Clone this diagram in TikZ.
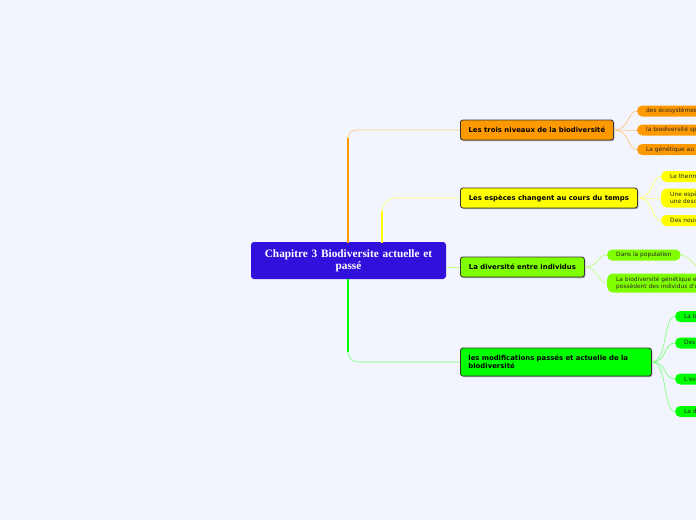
\documentclass[tikz,border=0pt]{standalone}
\usepackage{fontspec}
\newfontfamily\vf{DejaVu Sans}
\newfontfamily\gf{Liberation Serif}
\usetikzlibrary{shadows}
\definecolor{bg}{HTML}{F2F5FD}
\definecolor{cen}{HTML}{3210DC}
\definecolor{cor}{HTML}{FF9900}
\definecolor{cye}{HTML}{FFFF00}
\definecolor{clg}{HTML}{80FF00}
\definecolor{cgr}{HTML}{00FF00}
\definecolor{lor}{HTML}{FFC880}
\definecolor{lye}{HTML}{FFFF70}
\definecolor{llg}{HTML}{C0FF80}
\definecolor{lgr}{HTML}{80FF80}
\tikzset{
  mainbox/.style={draw=black!80, line width=0.8pt, rounded corners=2.5pt, anchor=west,
    inner xsep=8pt, inner ysep=0pt, minimum height=20pt, align=left,
    font=\vf\bfseries\fontsize{6.9}{8.5}\selectfont, text=black,
    drop shadow={shadow xshift=1pt, shadow yshift=-1pt, opacity=0.35, fill=black}},
  leaf/.style={rounded corners=5pt, anchor=west, inner xsep=9pt, inner ysep=0pt,
    minimum height=11pt, align=left, font=\vf\fontsize{5.9}{6.9}\selectfont, text=black!85},
  conn/.style={line width=0.7pt},
  trunk/.style={line width=1.1pt}
}
\begin{document}
\begin{tikzpicture}[x=1pt,y=-1pt]
\useasboundingbox (0,0) rectangle (696,520);
\fill[bg] (0,0) rectangle (696,520);
\begin{scope}
\clip (0,0) rectangle (696,520);
% central
\node[fill=cen, rounded corners=3pt, minimum width=195pt, minimum height=37pt, inner sep=0pt,
  text width=190pt, align=center, text=white, font=\gf\bfseries\fontsize{11.3}{12}\selectfont]
  (c) at (348.5,260.5) {Chapitre 3 Biodiversite actuelle et\\passé};
% main nodes
\node[mainbox, fill=cor, minimum width=153pt] (n1) at (460,130) {Les trois niveaux de la biodiversité};
\node[mainbox, fill=cye, minimum width=177pt] (n2) at (460,198) {Les espèces changent au cours du temps};
\node[mainbox, fill=clg, minimum width=124pt] (n3) at (460,267) {La diversité entre individus};
\node[mainbox, fill=cgr, text width=175pt, minimum height=28pt] (n4) at (460,362) {les modifications passés et actuelle de la\\biodiversité};
% trunk connectors
\coordinate (t1) at (348,242.5);
\coordinate (t2) at (382,242.5);
\coordinate (t4) at (348,278.5);
\draw[conn, lor, rounded corners=8pt] (t1) |- (n1.west);
\draw[trunk, cor] (t1) -- (348,138);
\draw[conn, lye, rounded corners=13pt] (t2) |- (n2.west);
\draw[trunk, cye] (t2) -- (382,211);
\draw[conn, llg] (c.east |- n3.west) -- (n3.west);
\draw[conn, lgr, rounded corners=10pt] (t4) |- (n4.west);
\draw[trunk, cgr] (t4) -- (348,352);
% orange leaves
\node[leaf, fill=cor] (o1) at (637,111) {des écosystèmes variés};
\node[leaf, fill=cor] (o2) at (637,130) {la biodiversité spécifique};
\node[leaf, fill=cor] (o3) at (637,149.5) {La génétique au sein d'une espèce};
\foreach \l in {o1,o2,o3}
  \draw[conn, lor] (n1.east) .. controls +(16,0) and +(-10,0) .. (\l.west);
% yellow leaves
\node[leaf, fill=cye] (y1) at (661,176.5) {Le thermomètre};
\node[leaf, fill=cye, minimum height=19pt, rounded corners=6pt] (y2) at (661,198) {Une espèce peut avoir\\une descendance};
\node[leaf, fill=cye] (y3) at (661,220.5) {Des nouvelles espèces};
\foreach \l in {y1,y2,y3}
  \draw[conn, lye] (n2.east) .. controls +(16,0) and +(-10,0) .. (\l.west);
% light green leaves
\node[leaf, fill=clg] (g1) at (607,255) {Dans la population};
\node[leaf, fill=clg, minimum height=19pt, rounded corners=6pt] (g2) at (607,283) {La biodiversité génétique est le fait que\\possèdent des individus d'une espèce};
\foreach \l in {g1,g2}
  \draw[conn, llg] (n3.east) .. controls +(14,0) and +(-10,0) .. (\l.west);
\coordinate (g1x) at (720,285);
\draw[conn, llg] (g1.east) .. controls +(12,0) and +(-14,0) .. (g1x);
% green leaves
\node[leaf, fill=cgr] (v1) at (675,316.5) {La biodiversité};
\node[leaf, fill=cgr] (v2) at (675,343) {Des espèces};
\node[leaf, fill=cgr] (v3) at (675,379) {L'extinction};
\node[leaf, fill=cgr] (v4) at (675,411.5) {La disparition};
\foreach \l in {v1,v2,v3,v4}
  \draw[conn, lgr] (n4.east) .. controls +(16,0) and +(-12,0) .. (\l.west);
\end{scope}
\end{tikzpicture}
\end{document}
